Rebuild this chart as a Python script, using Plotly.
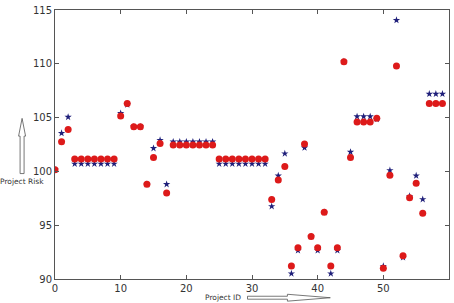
import plotly.graph_objects as go

project_id = list(range(60))

risk_circle = [100.15, 102.75, 103.9] + [101.15] * 7 + [105.15, 106.3, 104.15, 104.15, 98.8, 101.3, 102.6, 98.0] \
    + [102.45] * 7 + [101.15] * 8 + [97.4, 99.2, 100.45, 91.2, 92.9, 102.55, 93.95, 92.9, 96.2, 91.2, 92.9, 110.2, 101.3] \
    + [104.6] * 3 + [104.95, 91.0, 99.65, 109.8, 92.15, 97.55, 98.9, 96.1] + [106.3] * 3

risk_star = [100.15, 103.55, 105.05] + [100.7] * 7 + [105.4, 106.2, 104.15, 104.15, 98.8, 102.15, 102.9, 98.8] \
    + [102.75] * 7 + [100.7] * 8 + [96.75, 99.6, 101.65, 90.5, 92.65, 102.2, 93.95, 92.65, 96.2, 90.5, 92.65, 110.2, 101.8] \
    + [105.1] * 3 + [104.85, 91.2, 100.1, 114.05, 92.0, 97.7, 99.6, 97.4] + [107.2] * 3

x_ticks = [0, 10, 20, 30, 40, 50, 60]
y_ticks = [90, 95, 100, 105, 110, 115]

W, H = 454, 303
L, R, T, B = 55, 4, 6, 24
PW, PH = W - L - R, H - T - B


def px(xp):
    return (xp - L) / PW


def py(yp):
    return (H - B - yp) / PH


def path(points):
    s = "M " + " L ".join(f"{px(a):.5f},{py(b):.5f}" for a, b in points) + " Z"
    return s


fig = go.Figure()
fig.add_trace(go.Scatter(x=project_id, y=risk_star, mode="markers",
                         marker=dict(symbol="star", size=5.5, color="#1f1f7a", line=dict(width=0)),
                         showlegend=False))
fig.add_trace(go.Scatter(x=project_id, y=risk_circle, mode="markers",
                         marker=dict(symbol="circle", size=7, color="#dd1a1a", line=dict(width=0)),
                         showlegend=False))

axis_common = dict(showgrid=False, zeroline=False, showline=True, linecolor="#555", linewidth=1,
                   mirror="ticks", ticks="inside", ticklen=4, tickcolor="#555",
                   tickfont=dict(family="DejaVu Sans", size=10, color="#333"))

fig.update_xaxes(range=[0, 60], tickvals=x_ticks, **axis_common)
fig.update_yaxes(range=[90, 115], tickvals=y_ticks, **axis_common)

y_arrow = [(22, 116), (25.5, 134), (24, 134), (24, 172), (20, 172), (20, 134), (18.5, 134)]
x_arrow = [(248, 296.5), (288, 296.5), (288, 294.5), (331, 298), (288, 301.5), (288, 299.5), (248, 299.5)]

shapes = []
for pts in (y_arrow, x_arrow):
    shapes.append(dict(type="path", xref="paper", yref="paper", path=path(pts),
                       line=dict(color="#555", width=0.8), fillcolor="white"))

annotations = [
    dict(text="Project Risk", x=px(22), y=py(180), xref="paper", yref="paper", showarrow=False,
         xanchor="center", yanchor="middle", font=dict(family="DejaVu Sans", size=7.5, color="#333")),
    dict(text="Project ID", x=px(223), y=py(297.5), xref="paper", yref="paper", showarrow=False,
         xanchor="center", yanchor="middle", font=dict(family="DejaVu Sans", size=7.5, color="#333")),
]

fig.update_layout(width=W, height=H, margin=dict(l=L, r=R, t=T, b=B),
                  plot_bgcolor="white", paper_bgcolor="white",
                  shapes=shapes, annotations=annotations)

fig.write_html("out.html")
